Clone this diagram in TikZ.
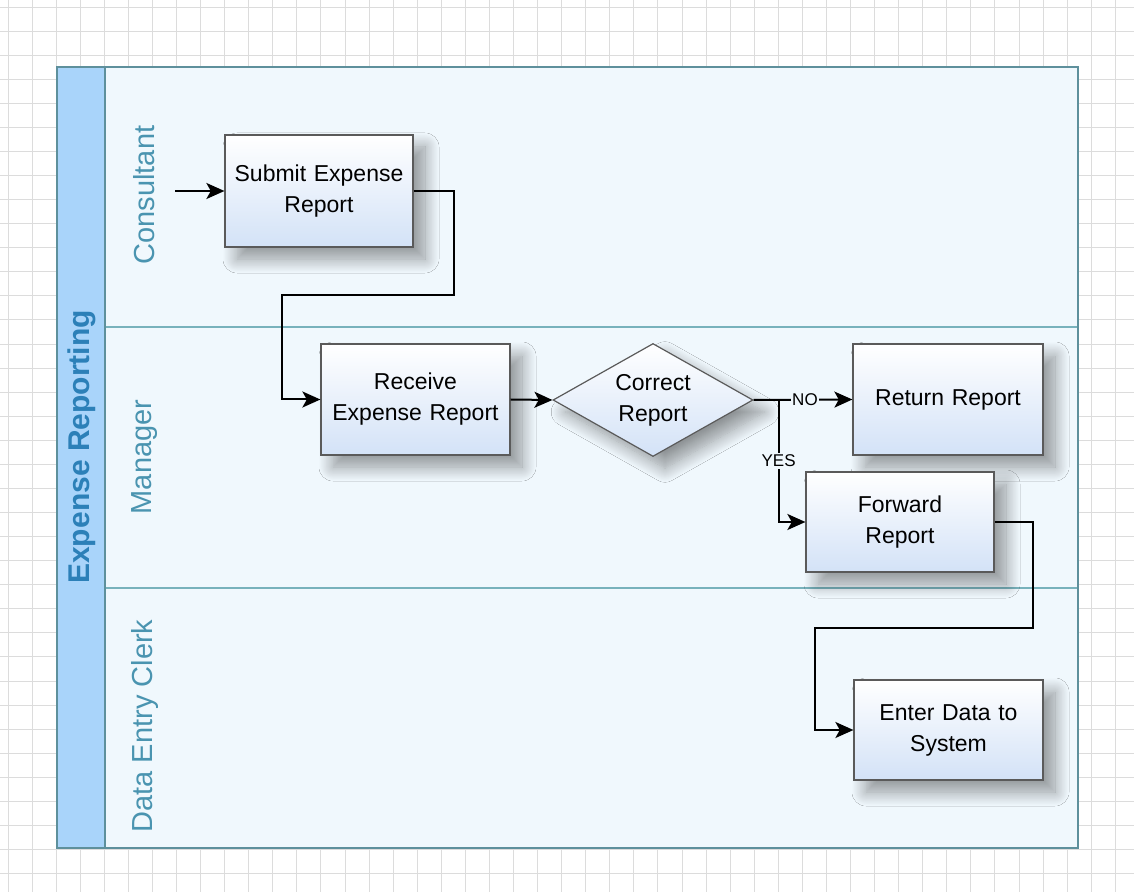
\documentclass[tikz,border=0pt]{standalone}
\usepackage{fontspec}
\setmainfont{Liberation Sans}
\usepackage{tikz}
\usetikzlibrary{shapes.geometric, arrows.meta, positioning, calc, shadows.blur}
\definecolor{gridgray}{HTML}{DCDCDC}
\definecolor{poolfill}{HTML}{F0F8FD}
\definecolor{headerblue}{HTML}{A9D4FA}
\definecolor{poolborder}{HTML}{5E909C}
\definecolor{laneline}{HTML}{78B2BC}
\definecolor{lanetext}{HTML}{4A94B0}
\definecolor{titletext}{HTML}{2C80B8}
\definecolor{boxbottom}{HTML}{D3E2F7}
\definecolor{boxborder}{HTML}{5A5A5A}

\tikzset{
  softshadow/.style={blur shadow={shadow xshift=6pt, shadow yshift=-6pt, shadow blur radius=7pt,
    shadow blur steps=16, shadow opacity=40}},
  task/.style={draw=boxborder, line width=0.6pt, top color=white, bottom color=boxbottom,
    text width=#1, align=center, inner sep=0pt,
    font=\fontsize{11.5}{15.5}\selectfont, softshadow},
  decision/.style={diamond, aspect=1.77, draw=boxborder, line width=0.6pt, top color=white, bottom color=boxbottom,
    minimum width=100pt, minimum height=56.5pt, inner sep=0pt, align=center,
    font=\fontsize{11.5}{15.5}\selectfont, softshadow},
  flow/.style={line width=1pt, -{Stealth[length=9pt, width=8pt, inset=2.2pt]}},
  branch/.style={fill=poolfill, inner sep=0.8pt, font=\fontsize{8.5}{10}\selectfont},
  lanelabel/.style={rotate=90, text=lanetext, font=\fontsize{14.5}{17}\selectfont}
}

\begin{document}
\begin{tikzpicture}[x=0.5pt, y=-0.5pt]
  \useasboundingbox (0,0) rectangle (1134,892);

  % background grid
  \foreach \i in {0,...,46}
    \draw[gridgray, line width=0.45pt] (8+\i*24.07,0) -- (8+\i*24.07,892);
  \foreach \j in {0,...,36}
    \draw[gridgray, line width=0.45pt] (0,7+\j*24.07) -- (1134,7+\j*24.07);

  % pool and lanes
  \fill[poolfill] (57,67) rectangle (1078,848);
  \fill[headerblue] (57,67) rectangle (105,848);
  \draw[laneline, line width=0.7pt] (105,327) -- (1078,327);
  \draw[laneline, line width=0.7pt] (105,588) -- (1078,588);
  \draw[poolborder, line width=0.7pt] (105,67) -- (105,848);
  \draw[poolborder, line width=0.8pt] (57,67) rectangle (1078,848);

  \node[rotate=90, text=titletext, font=\fontsize{15}{18}\selectfont\bfseries] (title) at (82,447) {Expense Reporting};
  \node[lanelabel] (consultant) at (144,195) {Consultant};
  \node[lanelabel] (manager) at (145,457) {Manager};
  \node[lanelabel] (clerk) at (145,726) {Data Entry Clerk};

  % tasks
  \node[task=94pt, minimum height=56pt] (submit) at (319,191) {Submit Expense\\Report};
  \node[task=94.5pt, minimum height=55.5pt] (receive) at (415.5,399.5) {Receive\\Expense Report};
  \node[decision] (correct) at (653,400) {Correct\\Report};
  \node[task=95pt, minimum height=55.5pt] (return) at (948,399.5) {Return Report};
  \node[task=94pt, minimum height=50pt] (forward) at (900,522) {Forward\\Report};
  \node[task=94.5pt, minimum height=50pt] (enter) at (948.5,730) {Enter Data to\\System};

  % connectors
  \coordinate (start) at (175,191);
  \draw[flow] (start) -- (submit.west);
  \draw[flow] (submit.east) -- ++(40,0) -- ++(0,104) -| ($(receive.west)+(-38,0)$) -- (receive.west);
  \draw[flow] (receive.east) -- (correct.west);
  \draw[flow] (correct.east) -- node[branch, pos=0.52] {NO} (return.west);
  \coordinate (split) at ($(correct.east)+(25,0)$);
  \draw[flow] (split) |- node[branch, pos=0.25] {YES} (forward.west);
  \draw[flow] (forward.east) -- ++(38,0) -- ++(0,106) -| ($(enter.west)+(-38,0)$) -- (enter.west);
\end{tikzpicture}
\end{document}
